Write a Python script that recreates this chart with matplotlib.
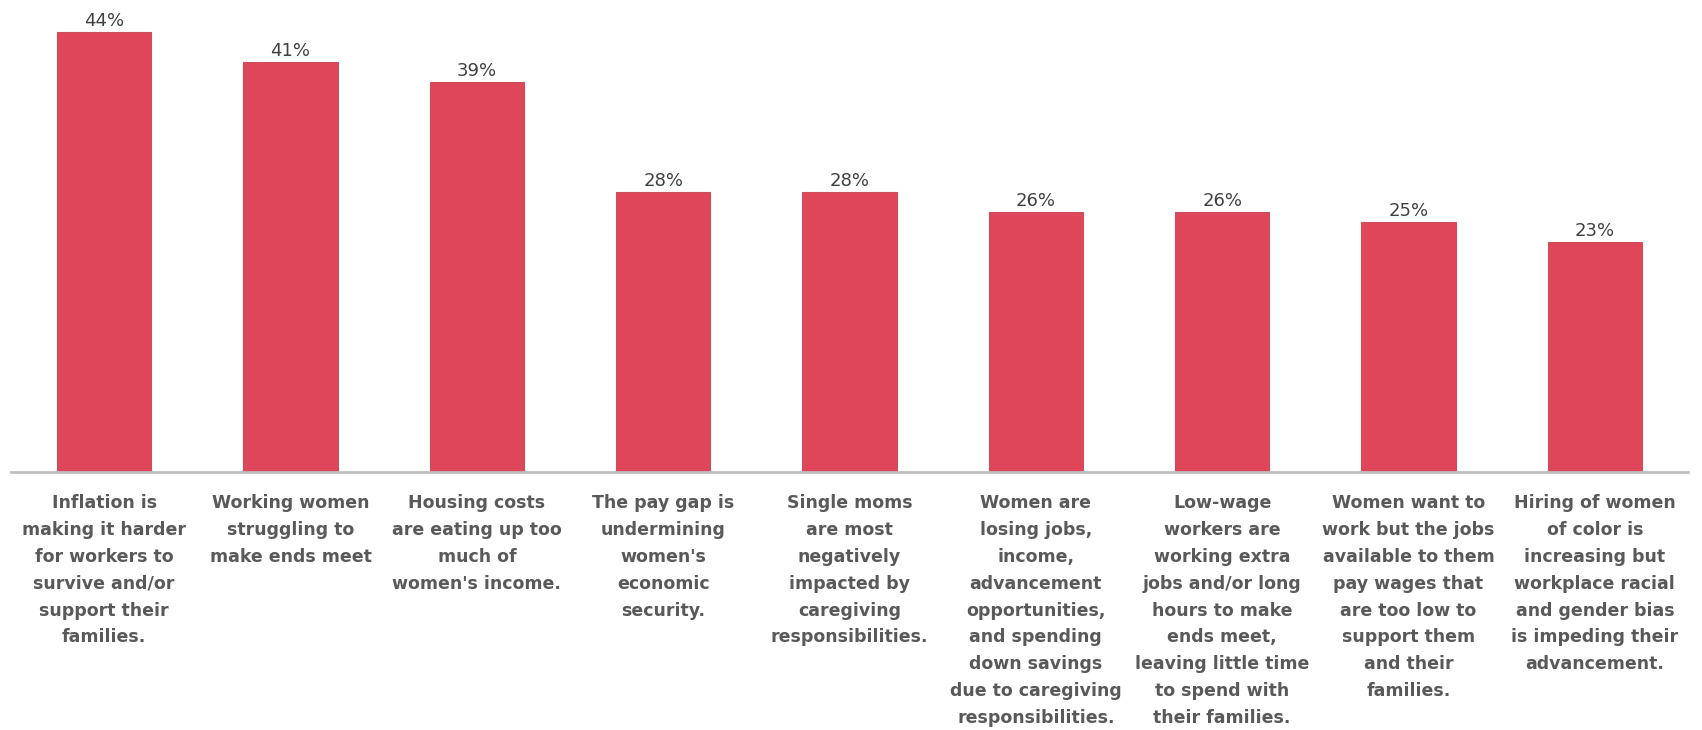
import numpy as np
import matplotlib.pyplot as plt

# survey results: share of respondents picking each concern
concerns = [
    "Inflation is\nmaking it harder\nfor workers to\nsurvive and/or\nsupport their\nfamilies.",
    "Working women\nstruggling to\nmake ends meet",
    "Housing costs\nare eating up too\nmuch of\nwomen's income.",
    "The pay gap is\nundermining\nwomen's\neconomic\nsecurity.",
    "Single moms\nare most\nnegatively\nimpacted by\ncaregiving\nresponsibilities.",
    "Women are\nlosing jobs,\nincome,\nadvancement\nopportunities,\nand spending\ndown savings\ndue to caregiving\nresponsibilities.",
    "Low-wage\nworkers are\nworking extra\njobs and/or long\nhours to make\nends meet,\nleaving little time\nto spend with\ntheir families.",
    "Women want to\nwork but the jobs\navailable to them\npay wages that\nare too low to\nsupport them\nand their\nfamilies.",
    "Hiring of women\nof color is\nincreasing but\nworkplace racial\nand gender bias\nis impeding their\nadvancement.",
]
shares = [44, 41, 39, 28, 28, 26, 26, 25, 23]

bar_color = '#E0465A'
text_color = '#595959'

fig = plt.figure(figsize=(17.02, 7.30), dpi=100)
ax = fig.add_axes([11 / 1702, 1 - 472 / 730, 1677 / 1702, 472 / 730])

x = np.arange(len(shares))
bars = ax.bar(x, shares, width=0.505, color=bar_color, edgecolor='#C8505C', linewidth=0.8)

# percent labels on top of each bar
for b, v in zip(bars, shares):
    ax.text(b.get_x() + b.get_width() / 2, v + 0.15, f'{v}%', ha='center', va='bottom',
            fontsize=13, color='#404040')

ax.set_xlim(-0.5, len(shares) - 0.5)
ax.set_ylim(0, 47.2)
ax.set_yticks([])
ax.set_xticks(x)
ax.set_xticklabels(concerns, fontsize=12.5, color=text_color, fontweight='bold',
                   linespacing=1.63, ha='center', va='top')
ax.tick_params(axis='x', length=0, pad=16)

for side in ['top', 'right', 'left']:
    ax.spines[side].set_visible(False)
ax.spines['bottom'].set_color('#BFBFBF')
ax.spines['bottom'].set_linewidth(2)

fig.savefig('out.png', dpi=100, facecolor='white')
